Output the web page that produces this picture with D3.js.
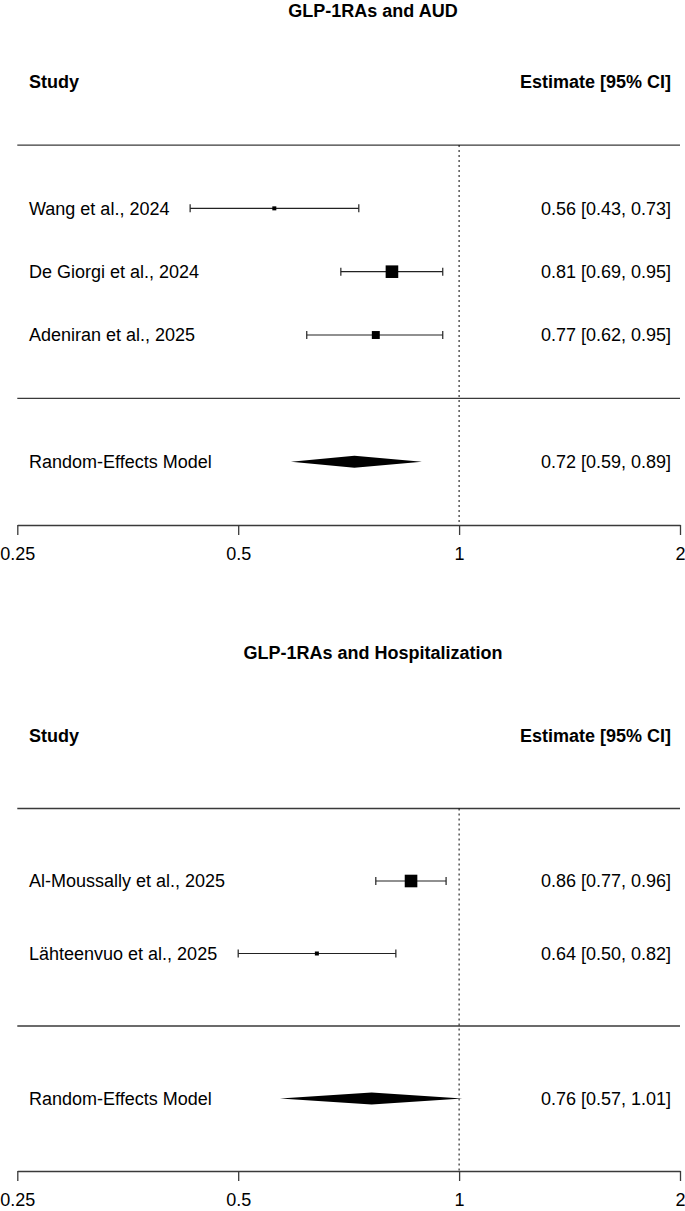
<!DOCTYPE html>
<html>
<head>
<meta charset="utf-8">
<script src="https://cdn.jsdelivr.net/npm/d3@7"></script>
<style>
  html, body { margin: 0; padding: 0; background: #fff; }
  svg { display: block; }
  text { font-family: "Liberation Sans", Arial, Helvetica, sans-serif; fill: #000; }
</style>
</head>
<body>
<svg id="chart" width="685" height="1211"></svg>
<script>
// ---- Data ----
const audTitle = "GLP-1RAs and AUD";
const audStudies = ["Wang et al., 2024", "De Giorgi et al., 2024", "Adeniran et al., 2025"];
const audEst = [0.56, 0.81, 0.77];
const audLower = [0.43, 0.69, 0.62];
const audUpper = [0.73, 0.95, 0.95];
const audWeight = [27.5, 39.5, 33.0];
const audModel = [0.72, 0.59, 0.89]; // estimate, lower, upper

const hospTitle = "GLP-1RAs and Hospitalization";
const hospStudies = ["Al-Moussally et al., 2025", "Lähteenvuo et al., 2025"];
const hospEst = [0.86, 0.64];
const hospLower = [0.77, 0.50];
const hospUpper = [0.96, 0.82];
const hospWeight = [57.2, 42.8];
const hospModel = [0.76, 0.57, 1.01];

const modelLabel = "Random-Effects Model";
const headerLeft = "Study";
const headerRight = "Estimate [95% CI]";
const tickValues = [0.25, 0.5, 1, 2];
const tickLabels = ["0.25", "0.5", "1", "2"];
const refValue = 1;

// ---- Drawing ----
const svg = d3.select("#chart");
const FS = 18;
const fmt = d3.format(".2f");
const x = d3.scaleLog().base(2).domain([0.25, 2]).range([17.3, 680]);
const leftX = 29, rightX = 671, titleX = 373;

function ciText(e, l, u) { return `${fmt(e)} [${fmt(l)}, ${fmt(u)}]`; }

function drawPanel(cfg) {
  const g = svg.append("g");
  const k = cfg.studies.length;
  // rows: 0 = axis, 1 = model, 2 = separator, 3..k+2 = studies, k+3 = top line, k+4 = header
  const y = d3.scaleLinear().domain([0, k + 4]).range([cfg.axisY, cfg.headerY]);
  const base = v => v + FS * 0.36;

  // title
  g.append("text").attr("x", titleX).attr("y", cfg.titleBase)
    .attr("text-anchor", "middle").attr("font-weight", "bold").attr("font-size", FS)
    .text(cfg.title);

  // headers
  g.append("text").attr("x", leftX).attr("y", base(y(k + 4)))
    .attr("font-weight", "bold").attr("font-size", FS).text(headerLeft);
  g.append("text").attr("x", rightX).attr("y", base(y(k + 4)))
    .attr("text-anchor", "end").attr("font-weight", "bold").attr("font-size", FS).text(headerRight);

  // horizontal rules
  [k + 3, 2].forEach(r => {
    g.append("line").attr("x1", x.range()[0]).attr("x2", x.range()[1])
      .attr("y1", y(r)).attr("y2", y(r))
      .attr("stroke", "#3a3a3a").attr("stroke-width", 1.3);
  });

  // reference line
  g.append("line").attr("x1", x(refValue)).attr("x2", x(refValue))
    .attr("y1", y(k + 3)).attr("y2", y(0))
    .attr("stroke", "#000").attr("stroke-width", 1).attr("stroke-dasharray", "2,3");

  const size = d3.scaleLinear().domain(d3.extent(cfg.weight)).range([4, 12.6]);

  cfg.studies.forEach((s, i) => {
    const yy = y(k + 2 - i);
    g.append("text").attr("x", leftX).attr("y", base(yy)).attr("font-size", FS).text(s);
    g.append("text").attr("x", rightX).attr("y", base(yy)).attr("text-anchor", "end")
      .attr("font-size", FS).text(ciText(cfg.est[i], cfg.lower[i], cfg.upper[i]));
    const xl = x(cfg.lower[i]), xu = x(cfg.upper[i]);
    g.append("line").attr("x1", xl).attr("x2", xu).attr("y1", yy).attr("y2", yy)
      .attr("stroke", "#222").attr("stroke-width", 1.2);
    [xl, xu].forEach(xx => g.append("line").attr("x1", xx).attr("x2", xx)
      .attr("y1", yy - 4).attr("y2", yy + 4).attr("stroke", "#222").attr("stroke-width", 1.2));
    const sz = size(cfg.weight[i]);
    g.append("rect").attr("x", x(cfg.est[i]) - sz / 2).attr("y", yy - sz / 2)
      .attr("width", sz).attr("height", sz).attr("fill", "#000");
  });

  // model row
  const ym = y(1);
  g.append("text").attr("x", leftX).attr("y", base(ym)).attr("font-size", FS).text(modelLabel);
  g.append("text").attr("x", rightX).attr("y", base(ym)).attr("text-anchor", "end")
    .attr("font-size", FS).text(ciText(cfg.model[0], cfg.model[1], cfg.model[2]));
  const dh = 6;
  g.append("path").attr("d",
    `M${x(cfg.model[1])},${ym} L${x(cfg.model[0])},${ym - dh} L${x(cfg.model[2])},${ym} L${x(cfg.model[0])},${ym + dh} Z`)
    .attr("fill", "#000");

  // axis
  const ax = d3.axisBottom(x).tickValues(tickValues)
    .tickFormat((d, i) => tickLabels[i]).tickSize(10).tickSizeOuter(0).tickPadding(20);
  const axg = g.append("g").attr("transform", `translate(0,${cfg.axisY})`).call(ax);
  axg.select(".domain").attr("stroke", "#3a3a3a").attr("stroke-width", 1.3);
  axg.selectAll(".tick line").attr("stroke", "#3a3a3a").attr("stroke-width", 1.3);
  axg.selectAll(".tick text").attr("font-size", FS)
    .attr("font-family", "Liberation Sans, Arial, sans-serif").attr("fill", "#000")
    .attr("dy", null).attr("y", 35).attr("dominant-baseline", "alphabetic");
}

drawPanel({
  title: audTitle, studies: audStudies, est: audEst, lower: audLower, upper: audUpper,
  weight: audWeight, model: audModel, titleBase: 17, headerY: 81.7, axisY: 525
});
drawPanel({
  title: hospTitle, studies: hospStudies, est: hospEst, lower: hospLower, upper: hospUpper,
  weight: hospWeight, model: hospModel, titleBase: 659, headerY: 736, axisY: 1171
});
</script>
</body>
</html>
